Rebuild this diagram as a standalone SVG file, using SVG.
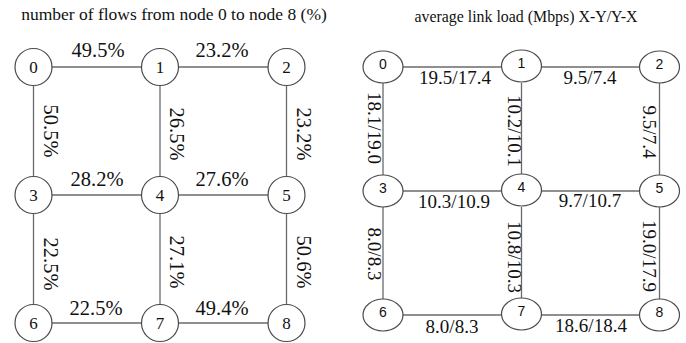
<svg xmlns="http://www.w3.org/2000/svg" width="686" height="343" viewBox="0 0 686 343">
<style>
.bg{fill:#ffffff}
.e{stroke:#6a6a6a;stroke-width:1.3;fill:none}
.n{fill:#ffffff;stroke:#4a4a4a;stroke-width:1.2}
.t{font-family:"Liberation Serif","Times New Roman",serif;fill:#111}
.title{font-size:17.5px;text-anchor:middle}
.title2{font-size:17px;text-anchor:middle}
.nl{font-family:"Liberation Serif","Times New Roman",serif;font-size:17px;text-anchor:middle;fill:#111}
.nr{font-family:"Liberation Sans",Arial,sans-serif;font-size:14px;text-anchor:middle;fill:#111}
.pl{font-size:20.5px;text-anchor:middle}
.pr{font-size:19px;text-anchor:middle}
</style>
<rect class="bg" x="0" y="0" width="686" height="343"/>
<text class="t title" x="174" y="20">number of flows from node 0 to node 8 (%)</text>
<text class="t title2" x="526" y="22" textLength="223" lengthAdjust="spacingAndGlyphs">average link load (Mbps) X-Y/Y-X</text>

<g id="connectors-left">
<line class="e" x1="52" y1="67" x2="141.5" y2="67"/>
<line class="e" x1="178.5" y1="67" x2="268" y2="67"/>
<line class="e" x1="52" y1="195" x2="141.5" y2="195"/>
<line class="e" x1="178.5" y1="195" x2="268" y2="195"/>
<line class="e" x1="52" y1="323" x2="141.5" y2="323"/>
<line class="e" x1="178.5" y1="323" x2="268" y2="323"/>
<line class="e" x1="33.5" y1="85.5" x2="33.5" y2="176.5"/>
<line class="e" x1="160" y1="85.5" x2="160" y2="176.5"/>
<line class="e" x1="286.5" y1="85.5" x2="286.5" y2="176.5"/>
<line class="e" x1="33.5" y1="213.5" x2="33.5" y2="304.5"/>
<line class="e" x1="160" y1="213.5" x2="160" y2="304.5"/>
<line class="e" x1="286.5" y1="213.5" x2="286.5" y2="304.5"/>
<text class="t pl" x="98" y="57">49.5%</text>
<text class="t pl" x="222" y="57">23.2%</text>
<text class="t pl" x="97" y="186">28.2%</text>
<text class="t pl" x="222" y="186">27.6%</text>
<text class="t pl" x="96" y="315">22.5%</text>
<text class="t pl" x="222" y="315">49.4%</text>
<text class="t pl" transform="translate(44,131) rotate(90)">50.5%</text>
<text class="t pl" transform="translate(170,134) rotate(90)">26.5%</text>
<text class="t pl" transform="translate(297,134) rotate(90)">23.2%</text>
<text class="t pl" transform="translate(44,264) rotate(90)">22.5%</text>
<text class="t pl" transform="translate(170,262) rotate(90)">27.1%</text>
<text class="t pl" transform="translate(297,262) rotate(90)">50.6%</text>
</g>

<g id="L0"><circle class="n" cx="33.5" cy="67" r="18.5"/><text class="nl" x="33.5" y="72.5">0</text></g>
<g id="L1"><circle class="n" cx="160" cy="67" r="18.5"/><text class="nl" x="160" y="72.5">1</text></g>
<g id="L2"><circle class="n" cx="286.5" cy="67" r="18.5"/><text class="nl" x="286.5" y="72.5">2</text></g>
<g id="L3"><circle class="n" cx="33.5" cy="195" r="18.5"/><text class="nl" x="33.5" y="200.5">3</text></g>
<g id="L4"><circle class="n" cx="160" cy="195" r="18.5"/><text class="nl" x="160" y="200.5">4</text></g>
<g id="L5"><circle class="n" cx="286.5" cy="195" r="18.5"/><text class="nl" x="286.5" y="200.5">5</text></g>
<g id="L6"><circle class="n" cx="33.5" cy="323" r="18.5"/><text class="nl" x="33.5" y="328.5">6</text></g>
<g id="L7"><circle class="n" cx="160" cy="323" r="18.5"/><text class="nl" x="160" y="328.5">7</text></g>
<g id="L8"><circle class="n" cx="286.5" cy="323" r="18.5"/><text class="nl" x="286.5" y="328.5">8</text></g>

<g id="connectors-right">
<line class="e" x1="403" y1="67" x2="501.5" y2="67"/>
<line class="e" x1="541.5" y1="67" x2="639.5" y2="67"/>
<line class="e" x1="403" y1="191" x2="501.5" y2="191"/>
<line class="e" x1="541.5" y1="191" x2="639.5" y2="191"/>
<line class="e" x1="403" y1="315" x2="501.5" y2="315"/>
<line class="e" x1="541.5" y1="315" x2="639.5" y2="315"/>
<line class="e" x1="383" y1="83" x2="383" y2="175"/>
<line class="e" x1="521.5" y1="83" x2="521.5" y2="175"/>
<line class="e" x1="659.5" y1="83" x2="659.5" y2="175"/>
<line class="e" x1="383" y1="207" x2="383" y2="299"/>
<line class="e" x1="521.5" y1="207" x2="521.5" y2="299"/>
<line class="e" x1="659.5" y1="207" x2="659.5" y2="299"/>
<text class="t pr" x="455" y="84">19.5/17.4</text>
<text class="t pr" x="590" y="84">9.5/7.4</text>
<text class="t pr" x="454" y="208">10.3/10.9</text>
<text class="t pr" x="590" y="207">9.7/10.7</text>
<text class="t pr" x="452" y="333">8.0/8.3</text>
<text class="t pr" x="591" y="332">18.6/18.4</text>
<text class="t pr" transform="translate(368,128) rotate(90)">18.1/19.0</text>
<text class="t pr" transform="translate(508,131) rotate(90)">10.2/10.1</text>
<text class="t pr" transform="translate(643,132) rotate(90)">9.5/7.4</text>
<text class="t pr" transform="translate(368,254) rotate(90)">8.0/8.3</text>
<text class="t pr" transform="translate(508,257) rotate(90)">10.8/10.3</text>
<text class="t pr" transform="translate(643,256) rotate(90)">19.0/17.9</text>
</g>

<g id="R0"><ellipse class="n" cx="383" cy="67" rx="20" ry="16"/><text class="nr" x="383" y="69">0</text></g>
<g id="R1"><ellipse class="n" cx="521.5" cy="66" rx="20" ry="16"/><text class="nr" x="521.5" y="68">1</text></g>
<g id="R2"><ellipse class="n" cx="659.5" cy="67" rx="20" ry="16"/><text class="nr" x="659.5" y="69">2</text></g>
<g id="R3"><ellipse class="n" cx="383" cy="191" rx="20" ry="16"/><text class="nr" x="383" y="193">3</text></g>
<g id="R4"><ellipse class="n" cx="521.5" cy="190" rx="20" ry="16"/><text class="nr" x="521.5" y="192">4</text></g>
<g id="R5"><ellipse class="n" cx="659.5" cy="191" rx="20" ry="16"/><text class="nr" x="659.5" y="193">5</text></g>
<g id="R6"><ellipse class="n" cx="383" cy="315" rx="20" ry="16"/><text class="nr" x="383" y="317">6</text></g>
<g id="R7"><ellipse class="n" cx="521.5" cy="314" rx="20" ry="16"/><text class="nr" x="521.5" y="316">7</text></g>
<g id="R8"><ellipse class="n" cx="659.5" cy="315" rx="20" ry="16"/><text class="nr" x="659.5" y="317">8</text></g>
</svg>
